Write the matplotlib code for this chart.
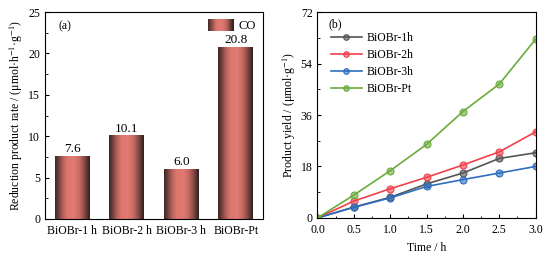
import numpy as np
import matplotlib
matplotlib.use("Agg")
import matplotlib.pyplot as plt
from matplotlib.colors import LinearSegmentedColormap, to_rgba
from matplotlib.patches import Rectangle
from matplotlib.legend_handler import HandlerBase
from matplotlib.ticker import MultipleLocator

plt.rcParams["font.family"] = ["Liberation Serif", "DejaVu Serif"]
plt.rcParams["mathtext.fontset"] = "stix"
plt.rcParams["font.size"] = 8.5

# (a) CO production rate
samples = ["BiOBr-1 h", "BiOBr-2 h", "BiOBr-3 h", "BiOBr-Pt"]
co_rate = [7.6, 10.1, 6.0, 20.8]

# (b) product yield vs time
time_h = [0.0, 0.5, 1.0, 1.5, 2.0, 2.5, 3.0]
yield_1h = [0.0, 3.8, 7.2, 11.9, 15.7, 20.8, 22.8]
yield_2h = [0.0, 5.9, 10.2, 14.2, 18.5, 23.1, 30.1]
yield_3h = [0.0, 3.7, 7.0, 11.0, 13.4, 15.7, 18.0]
yield_pt = [0.0, 8.0, 16.5, 25.7, 37.2, 46.8, 62.5]
series_labels = ["BiOBr-1h", "BiOBr-2h", "BiOBr-3h", "BiOBr-Pt"]
series_colors = ["#555555", "#f0414b", "#2e6fc0", "#6aac3c"]

# cylinder-like shading for the bars
bar_cmap = LinearSegmentedColormap.from_list("cyl", [
    (0.00, "#3a2624"), (0.10, "#6e3e3a"), (0.22, "#b0605a"), (0.35, "#dc766e"),
    (0.55, "#e07a72"), (0.70, "#c86a63"), (0.84, "#8a4b46"), (1.00, "#2e1e1c")])
grad = np.linspace(0, 1, 256).reshape(1, -1)


class GradientHandler(HandlerBase):
    def create_artists(self, legend, orig_handle, xdescent, ydescent,
                       width, height, fontsize, trans):
        n = 30
        arts = []
        for i in range(n):
            r = Rectangle((-xdescent + width * i / n, -ydescent), width / n + 0.3,
                          height, facecolor=bar_cmap(i / (n - 1)), edgecolor="none",
                          transform=trans)
            arts.append(r)
        return arts


fig = plt.figure(figsize=(5.55, 2.57), dpi=100)
ax1 = fig.add_axes([0.081, 0.148, 0.393, 0.805])
ax2 = fig.add_axes([0.572, 0.152, 0.393, 0.801])

x = np.arange(len(samples))
bars = ax1.bar(x, co_rate, width=0.64, color="none", edgecolor="none")
for b, v in zip(bars, co_rate):
    x0 = b.get_x()
    im = ax1.imshow(grad, cmap=bar_cmap, aspect="auto",
                    extent=(x0, x0 + b.get_width(), 0, v), zorder=2)
    im.set_clip_path(b)
    ax1.text(b.get_x() + b.get_width() / 2, v + 0.1, f"{v:.1f}",
             ha="center", va="bottom", fontsize=9.5)
ax1.set_xlim(-0.5, 3.5)
ax1.set_ylim(0, 25)
ax1.set_xticks(x)
ax1.set_xticklabels(samples, fontsize=8.5)
ax1.tick_params(axis="x", length=0, pad=4.5)
ax1.yaxis.set_major_locator(MultipleLocator(5))
ax1.yaxis.set_minor_locator(MultipleLocator(2.5))
ax1.tick_params(axis="y", which="both", direction="in", labelsize=8.5)
ax1.tick_params(axis="y", which="major", length=3)
ax1.tick_params(axis="y", which="minor", length=1.8)
ax1.set_ylabel(r"Reduction product rate / (μmol·h$^{-1}$·g$^{-1}$)", fontsize=8.5, labelpad=2)
ax1.text(0.06, 0.93, "(a)", transform=ax1.transAxes, fontsize=8.5, va="center")
ax1.legend([Rectangle((0, 0), 1, 1)], ["CO"], handler_map={Rectangle: GradientHandler()},
           loc="upper right", frameon=False, fontsize=9, handlelength=2.1,
           handleheight=1.1, borderaxespad=0.15, handletextpad=0.4)

all_yields = [yield_1h, yield_2h, yield_3h, yield_pt]
for yv, lab, c in zip(all_yields, series_labels, series_colors):
    ax2.plot(time_h, yv, color=c, lw=1.2, marker="o", ms=5,
             mfc=to_rgba(c, 0.6), mec=c, mew=0.8, label=lab)
ax2.set_xlim(0, 3)
ax2.set_ylim(0, 72)
ax2.xaxis.set_major_locator(MultipleLocator(0.5))
ax2.xaxis.set_minor_locator(MultipleLocator(0.25))
ax2.yaxis.set_major_locator(MultipleLocator(18))
ax2.yaxis.set_minor_locator(MultipleLocator(9))
ax2.tick_params(which="both", direction="in", labelsize=8.5)
ax2.tick_params(which="major", length=3)
ax2.tick_params(which="minor", length=1.8)
ax2.tick_params(axis="x", pad=4.5)
ax2.set_xlabel("Time / h", fontsize=8.5, labelpad=4)
ax2.set_ylabel(r"Product yield / (μmol·g$^{-1}$)", fontsize=8.5, labelpad=2)
ax2.text(0.05, 0.94, "(b)", transform=ax2.transAxes, fontsize=8.5, va="center")
ax2.legend(loc="upper left", bbox_to_anchor=(0.04, 0.925), frameon=False, fontsize=8.5,
           handlelength=2.6, labelspacing=0.42, handletextpad=0.4, borderaxespad=0.0,
           markerscale=0.8)

fig.savefig("out.png", dpi=100)
